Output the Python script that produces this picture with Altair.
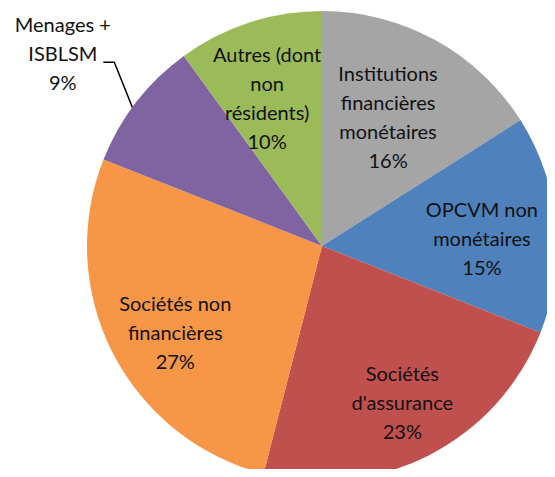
import math
import altair as alt
import pandas as pd

# ---- data ----
categories = [
    "Institutions financières monétaires",
    "OPCVM non monétaires",
    "Sociétés d'assurance",
    "Sociétés non financières",
    "Menages + ISBLSM",
    "Autres (dont non résidents)",
]
label_lines = [
    ["Institutions", "financières", "monétaires"],
    ["OPCVM non", "monétaires"],
    ["Sociétés", "d'assurance"],
    ["Sociétés non", "financières"],
    ["Menages +", "ISBLSM"],
    ["Autres (dont", "non", "résidents)"],
]
values = [16, 15, 23, 27, 9, 10]
colors = ["#A5A5A5", "#4F81BD", "#C0504D", "#F79646", "#8064A2", "#9BBB59"]

# ---- layout (not data) ----
W, H = 539, 461
CX, CY = 314, 238
R = 235
label_radius = [144, 160, 177, 171, 322, 156]
label_angle_shift = [-1.5, 3.3, 0.0, -3.9, -1.4, -2.6]
FONT = "Lato"
FS = 20
LH = 29

total = sum(values)
rows, lab_rows = [], []
cum = 0.0
for i, (c, v) in enumerate(zip(categories, values)):
    start = cum / total * 360
    cum += v
    end = cum / total * 360
    mid = (start + end) / 2 + label_angle_shift[i]
    a = math.radians(mid)
    r = label_radius[i]
    lines = label_lines[i] + [f"{v}%"]
    rows.append({"cat": c, "value": v, "idx": i})
    lab_rows.append({
        "cat": c,
        "text": "\n".join(lines),
        "lx": CX + r * math.sin(a),
        # first line position so that the whole block is centred
        "ly": CY - r * math.cos(a) - (len(lines) - 1) / 2 * LH,
    })
df = pd.DataFrame(rows)
labels = pd.DataFrame(lab_rows)

# leader line for the small "Menages" slice
mi = 4
s_ang = sum(values[:mi]) / total * 360
e_ang = sum(values[:mi + 1]) / total * 360
edge = math.radians(s_ang + 0.45 * (e_ang - s_ang))
ex, ey = CX + R * math.sin(edge), CY - R * math.cos(edge)
leader = pd.DataFrame({
    "px": [ex, ex - 18, ex - 29],
    "py": [ey, ey - 45, ey - 45],
    "o": [0, 1, 2],
})

pie = alt.Chart(df).mark_arc(outerRadius=R).encode(
    theta=alt.Theta("value:Q", stack=True),
    color=alt.Color("cat:N", scale=alt.Scale(domain=categories, range=colors), legend=None),
    order=alt.Order("idx:Q"),
    x=alt.value(CX),
    y=alt.value(CY),
)

text = alt.Chart(labels).mark_text(
    font=FONT, fontSize=FS, lineHeight=LH, lineBreak="\n",
    align="center", baseline="middle", color="#111111",
).encode(
    x=alt.X("lx:Q", scale=None, axis=None),
    y=alt.Y("ly:Q", scale=None, axis=None),
    text="text:N",
)

line = alt.Chart(leader).mark_line(color="#000000", strokeWidth=1.5).encode(
    x=alt.X("px:Q", scale=None, axis=None),
    y=alt.Y("py:Q", scale=None, axis=None),
    order="o:Q",
)

chart = alt.layer(pie, line, text).properties(
    width=W, height=H,
    autosize=alt.AutoSizeParams(type="none"),
    padding=0,
).configure_view(stroke=None)

chart.save("out.html", embed_options={"renderer": "svg", "actions": False})
